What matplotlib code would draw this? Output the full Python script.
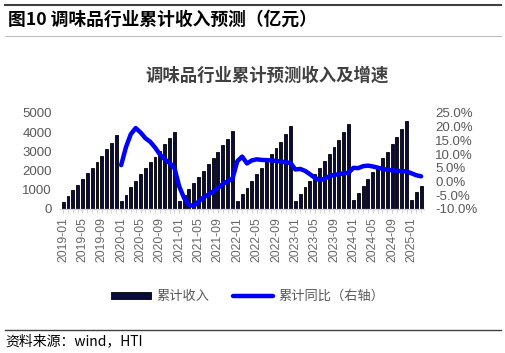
import matplotlib.pyplot as plt
from matplotlib.lines import Line2D
import numpy as np

# monthly cumulative revenue (100m yuan), 2019-01 .. 2025-03
rev_2019 = [380, 680, 990, 1250, 1550, 1860, 2150, 2460, 2780, 3110, 3450, 3830]
rev_2020 = [400, 745, 1130, 1470, 1820, 2135, 2450, 2720, 3040, 3370, 3680, 4000]
rev_2021 = [420, 730, 1040, 1370, 1680, 2000, 2330, 2640, 2970, 3320, 3660, 4040]
rev_2022 = [430, 765, 1110, 1460, 1820, 2150, 2450, 2850, 3160, 3500, 3900, 4300]
rev_2023 = [430, 800, 1130, 1475, 1820, 2150, 2515, 2880, 3230, 3590, 4010, 4410]
rev_2024 = [470, 850, 1200, 1560, 1930, 2240, 2640, 2985, 3370, 3730, 4150, 4560]
rev_2025 = [470, 860, 1215]
revenue = rev_2019 + rev_2020 + rev_2021 + rev_2022 + rev_2023 + rev_2024 + rev_2025

# cumulative yoy (%), starts 2020-01
yoy = [6.0, 12.6, 17.3, 19.5, 17.9, 15.8, 14.5, 12.4, 9.9, 8.1, 6.8, 5.0,
       -1.8, -6.0, -8.5, -8.9, -7.3, -5.8, -4.8, -3.6, -2.4, -0.9, 0.1, 1.0,
       7.4, 9.1, 6.6, 7.7, 8.1, 7.9, 7.8, 7.7, 7.5, 7.3, 7.0, 6.8,
       4.4, 4.6, 3.9, 2.7, 1.4, 0.5, 1.0, 1.9, 2.4, 2.7, 3.0, 3.2,
       5.0, 4.9, 5.6, 5.8, 5.5, 5.1, 4.6, 4.3, 4.1, 3.9, 3.8, 3.7,
       3.0, 2.3, 1.9]

months = []
for y in range(2019, 2026):
    for m in range(1, 13):
        months.append('%d-%02d' % (y, m))
months = months[:len(revenue)]

gray = '#595959'
cjk = ['Noto Sans CJK SC', 'DejaVu Sans']
latin = ['Liberation Sans', 'DejaVu Sans']

fig = plt.figure(figsize=(5.06, 3.53), dpi=100)
ax = fig.add_axes([0.119, 0.408, 0.719, 0.272])
ax2 = ax.twinx()

x = np.arange(len(revenue))
bars = ax.bar(x, revenue, width=0.6, color='#0b0b3b', edgecolor='black', linewidth=0.6, zorder=2)
line, = ax2.plot(x[12:], yoy, color='#0000ff', linewidth=3.2, solid_capstyle='round', zorder=3)

ax.set_xlim(-0.6, len(revenue) - 0.4)
ax.set_ylim(0, 5000)
ax.set_yticks(range(0, 5001, 1000))
ax2.set_ylim(-10, 25)
ax2.set_yticks(range(-10, 26, 5))
ax2.set_yticklabels(['%.1f%%' % v for v in range(-10, 26, 5)])

ax.set_xticks(x[::4])
ax.set_xticklabels(months[::4], rotation=90, fontsize=8.7, color='#666666', family=latin)
ax.set_xticks(x, minor=True)
ax.tick_params(axis='x', which='both', color='#d0d0d0', length=3, pad=3)
ax.tick_params(axis='y', length=0, labelsize=9.5, labelcolor=gray, pad=6)
ax2.tick_params(axis='y', length=0, labelsize=9.5, labelcolor=gray, pad=8)
for t in ax.get_yticklabels() + ax2.get_yticklabels():
    t.set_family(latin)

for a in (ax, ax2):
    for s in ('top', 'left', 'right'):
        a.spines[s].set_visible(False)
    a.spines['bottom'].set_color('#d0d0d0')

fig.text(0.527, 0.785, '调味品行业累计预测收入及增速', ha='center', va='center',
         fontsize=12.5, fontweight='bold', color='#404040', family=cjk)

leg = fig.legend([bars, line], ['累计收入', '累计同比（右轴）'], loc='center',
                 bbox_to_anchor=(0.49, 0.16), ncol=2, frameon=False, handlelength=3.0,
                 handleheight=0.5, handletextpad=0.45, columnspacing=1.8,
                 prop={'family': cjk, 'size': 9.5})
for t in leg.get_texts():
    t.set_color(gray)

fig.text(0.016, 0.945, '图10 调味品行业累计收入预测（亿元）', ha='left', va='center',
         fontsize=12.8, fontweight='bold', color='black', family=cjk)
fig.text(0.01, 0.032, '资料来源：wind，HTI', ha='left', va='center',
         fontsize=10, color='black', family=cjk)

fig.add_artist(Line2D([0.01, 0.99], [0.986, 0.986], color='#404040', linewidth=1.5))
fig.add_artist(Line2D([0.01, 0.99], [0.898, 0.898], color='#c0c0c0', linewidth=0.8))
fig.add_artist(Line2D([0.01, 0.99], [0.065, 0.065], color='#404040', linewidth=1.0))

fig.savefig('out.png', dpi=100)
